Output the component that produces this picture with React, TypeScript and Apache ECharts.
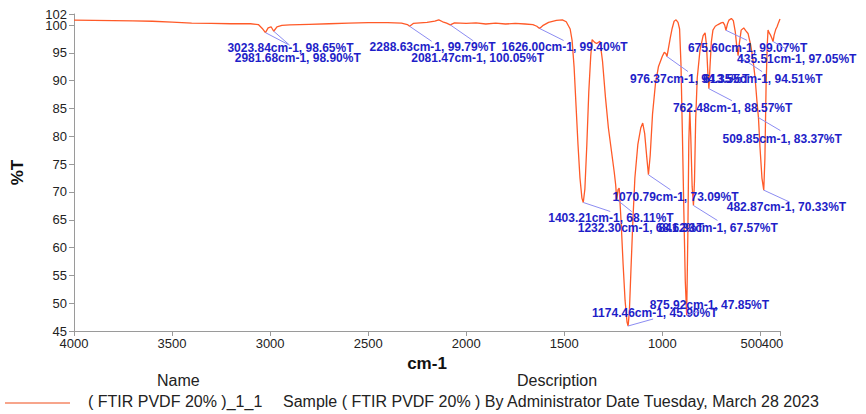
import React, { useEffect, useRef } from "react";
import * as echarts from "echarts";

// FTIR spectrum of PVDF 20%: [wavenumber (cm-1), transmittance (%T)]
const spectrum: [number, number][] = [
  [4000, 100.9], [3900, 100.85], [3800, 100.8], [3700, 100.75], [3600, 100.7],
  [3500, 100.55], [3400, 100.35], [3300, 100.3], [3200, 100.25], [3100, 100.25],
  [3060, 100.1], [3040, 99.4], [3023.84, 98.65], [3010, 99.5], [2995, 99.7],
  [2981.68, 98.9], [2965, 99.7], [2940, 99.95], [2900, 100.05], [2800, 100.15],
  [2700, 100.25], [2600, 100.35], [2500, 100.45], [2400, 100.45], [2330, 100.35],
  [2300, 100.1], [2288.63, 99.79], [2270, 100.3], [2200, 100.5], [2160, 100.7],
  [2140, 100.95], [2120, 100.6], [2100, 100.35], [2081.47, 100.05], [2060, 100.4],
  [2000, 100.3], [1950, 100.4], [1900, 100.2], [1850, 100.35], [1800, 100.2],
  [1750, 100.3], [1700, 100.2], [1660, 100.1], [1640, 99.8], [1626, 99.4],
  [1610, 99.9], [1580, 100.5], [1540, 100.85], [1510, 100.95], [1490, 100.6],
  [1470, 99.3], [1460, 97.2], [1450, 92.5], [1440, 85.5], [1430, 78.5],
  [1420, 72.5], [1410, 68.9], [1403.21, 68.11], [1395, 70.5], [1385, 78.5],
  [1375, 88], [1365, 94.5], [1358, 97.4], [1345, 96.9], [1335, 96.7],
  [1318, 97.1], [1305, 93.5], [1290, 87], [1275, 81.5], [1260, 77.5],
  [1245, 73.5], [1238, 71.3], [1232.3, 68.62], [1226, 70.4], [1220, 70.7],
  [1210, 64.5], [1200, 57], [1190, 50.5], [1180, 46.6], [1174.46, 45.9],
  [1168, 48.5], [1160, 56], [1150, 65], [1140, 72.5], [1125, 78.5],
  [1110, 81.5], [1100, 82.4], [1090, 80.5], [1080, 76.5], [1070.79, 73.09],
  [1062, 76.5], [1050, 84], [1035, 89.5], [1020, 92.5], [1000, 94.4],
  [990, 95.1], [982, 94.9], [976.37, 94.35], [970, 95.6], [960, 97.6],
  [950, 99.4], [940, 100.7], [930, 100.95], [920, 100.5], [912, 99.3],
  [905, 93], [898, 81], [890, 66], [883, 54], [875.92, 47.85],
  [870, 62], [865, 79], [860, 85], [855, 80], [848, 71],
  [841.33, 67.57], [836, 72], [830, 83], [822, 90.5], [808, 95.5],
  [792, 98.1], [782, 98.6], [775, 96.5], [768, 91.5], [762.48, 88.57],
  [757, 92.5], [750, 97], [742, 99.1], [730, 99.8], [716, 100.1],
  [700, 100.4], [690, 100.5], [682, 100.0], [675.6, 99.07], [668, 100.2],
  [660, 100.9], [648, 101.2], [638, 100.8], [628, 98.8], [620, 96],
  [613.55, 94.51], [607, 96.8], [598, 99.1], [585, 99.5], [575, 99.0],
  [563, 98.5], [550, 96.5], [543, 95], [535, 93], [527, 90.5],
  [518, 86.5], [509.85, 83.37], [502, 78], [492, 72.5], [482.87, 70.33],
  [477, 76], [471, 89], [465, 96.5], [461, 99.1], [455, 98.6],
  [448, 98.2], [441, 97.6], [435.51, 97.05], [430, 98.2], [422, 99.2],
  [415, 99.7], [408, 100.4], [400, 101.1],
];

// Picked peaks: [wavenumber, %T]
const peaks: [number, number][] = [
  [3023.84, 98.65], [2981.68, 98.9], [2288.63, 99.79], [2081.47, 100.05],
  [1626.0, 99.4], [1403.21, 68.11], [1232.3, 68.62], [1174.46, 45.9],
  [1070.79, 73.09], [976.37, 94.35], [875.92, 47.85], [841.33, 67.57],
  [762.48, 88.57], [675.6, 99.07], [613.55, 94.51], [509.85, 83.37],
  [482.87, 70.33], [435.51, 97.05],
];

// Axis ranges and tick values
const xRange = [400, 4000];
const xTickValues = [400, 500, 1000, 1500, 2000, 2500, 3000, 3500, 4000];
const xMainLabels = [500, 1000, 1500, 2000, 2500, 3000, 3500, 4000];
const xEndLabel = [400];
const yRange = [45, 102];
const yTickValues = [45, 50, 55, 60, 65, 70, 75, 80, 85, 90, 95, 100, 102];
const yMainLabels = [45, 50, 55, 60, 65, 70, 75, 80, 85, 90, 95, 100];
const yEndLabel = [102];

const seriesName = "( FTIR PVDF 20% )_1_1";
const seriesDescription =
  "Sample ( FTIR PVDF 20% ) By Administrator Date Tuesday, March 28 2023";

// Label placement per peak: [textDx, textDy, leaderDx, leaderDy] in px from the peak
const peakLabelLayout: [number, number, number, number][] = [
  [-38, 15, 23, 12], [-39, 27, 16, 14], [-40, 21, 22, 15], [-39, 33, 23, 16],
  [-38, 19, 24, 12], [-35, 16, 27, 9], [-39, 28, 15, 12], [-36, -13, 25, -7],
  [-36, 22, 22, 15], [-37, 22, 21, 15], [-37, -10, 12, -4], [-35, 23, 24, 15],
  [-36, 19, 23, 12], [-38, 18, 21, 10], [-35, 23, 24, 16], [-36, 21, 22, 13],
  [-37, 17, 26, 12], [-36, 17, 14, 8],
];

const LINE_COLOR = "#ff5a28";
const PEAK_TEXT = "#1e1ec8";
const PEAK_LEADER = "#8c8cf2";
const AXIS_GRAY = "#9a9a9a";
const FONT = "'Liberation Sans', Arial, sans-serif";

const labelFont = { fontFamily: FONT, fontSize: 13, color: "#222" };
const nameFont = { fontFamily: FONT, fontSize: 17, fontWeight: "bold", color: "#111" };

export default function App() {
  const ref = useRef<HTMLDivElement>(null);

  useEffect(() => {
    document.body.style.margin = "0";
    if (!ref.current) return;
    const chart = echarts.init(ref.current, undefined, { renderer: "svg" });

    const option: any = {
      animation: false,
      backgroundColor: "#ffffff",
      grid: { left: 74, right: 86, top: 14, bottom: 83 },
      xAxis: [
        {
          type: "value",
          position: "bottom",
          inverse: true,
          min: xRange[0],
          max: xRange[1],
          name: "cm-1",
          nameLocation: "middle",
          nameGap: 17,
          nameTextStyle: nameFont,
          axisLine: { show: true, lineStyle: { color: AXIS_GRAY, width: 1 } },
          axisTick: { show: true, length: 5, customValues: xTickValues, lineStyle: { color: AXIS_GRAY } },
          splitLine: { show: false },
          axisLabel: {
            ...labelFont,
            margin: 6,
            customValues: xMainLabels,
            showMinLabel: true,
            showMaxLabel: true,
            // the 500 label is nudged left so it abuts the 400 label
            formatter: (v: number) => (v === 500 ? `{n|${v}}` : String(v)),
            rich: { n: { ...labelFont, padding: [0, 18, 0, 0] } },
          },
        },
        {
          type: "value",
          position: "bottom",
          inverse: true,
          min: xRange[0],
          max: xRange[1],
          axisLine: { show: false },
          axisTick: { show: false },
          splitLine: { show: false },
          axisLabel: {
            ...labelFont,
            margin: 6,
            customValues: xEndLabel,
            showMinLabel: true,
            formatter: (v: number) => `{e|${v}}`,
            rich: { e: { ...labelFont, padding: [0, 15, 0, 0] } },
          },
        },
      ],
      yAxis: [
        {
          type: "value",
          position: "left",
          min: yRange[0],
          max: yRange[1],
          name: "%T",
          nameLocation: "middle",
          nameGap: 48,
          nameRotate: 90,
          nameTextStyle: nameFont,
          axisLine: { show: true, lineStyle: { color: AXIS_GRAY, width: 1 } },
          axisTick: { show: true, length: 5, customValues: yTickValues, lineStyle: { color: AXIS_GRAY } },
          splitLine: { show: false },
          axisLabel: {
            ...labelFont,
            margin: 7,
            customValues: yMainLabels,
            showMinLabel: true,
            showMaxLabel: true,
            formatter: (v: number) => String(v),
          },
        },
        {
          type: "value",
          position: "left",
          min: yRange[0],
          max: yRange[1],
          axisLine: { show: false },
          axisTick: { show: false },
          splitLine: { show: false },
          axisLabel: {
            ...labelFont,
            margin: 7,
            customValues: yEndLabel,
            showMaxLabel: true,
            formatter: (v: number) => String(v),
          },
        },
      ],
      series: [
        {
          type: "line",
          name: seriesName,
          data: spectrum,
          xAxisIndex: 0,
          yAxisIndex: 0,
          showSymbol: false,
          symbol: "none",
          lineStyle: { color: LINE_COLOR, width: 1.3 },
          z: 2,
        },
        {
          type: "custom",
          name: "peaks",
          data: peaks,
          xAxisIndex: 0,
          yAxisIndex: 0,
          clip: false,
          z: 5,
          renderItem: (params: any, api: any) => {
            const i = params.dataIndex;
            const w = api.value(0);
            const t = api.value(1);
            const [px, py] = api.coord([w, t]);
            const [tdx, tdy, ldx, ldy] = peakLabelLayout[i];
            return {
              type: "group",
              children: [
                {
                  type: "line",
                  shape: { x1: px, y1: py, x2: px + ldx, y2: py + ldy },
                  style: { stroke: PEAK_LEADER, lineWidth: 1 },
                },
                {
                  type: "text",
                  style: {
                    text: `${w.toFixed(2)}cm-1, ${t.toFixed(2)}%T`,
                    x: px + tdx,
                    y: py + tdy,
                    fill: PEAK_TEXT,
                    font: `bold 12px ${FONT}`,
                    align: "left",
                    verticalAlign: "middle",
                  },
                },
              ],
            };
          },
        },
      ],
      graphic: [
        {
          type: "text",
          left: 157,
          top: 372,
          style: { text: "Name", font: `16px ${FONT}`, fill: "#222" },
        },
        {
          type: "text",
          left: 517,
          top: 372,
          style: { text: "Description", font: `16px ${FONT}`, fill: "#222" },
        },
        {
          type: "line",
          shape: { x1: 5, y1: 403, x2: 70, y2: 403 },
          style: { stroke: "#f7a58b", lineWidth: 2 },
        },
        {
          type: "text",
          left: 88,
          top: 393,
          style: { text: seriesName, font: `16px ${FONT}`, fill: "#222" },
        },
        {
          type: "text",
          left: 283,
          top: 393,
          style: { text: seriesDescription, font: `16px ${FONT}`, fill: "#222" },
        },
      ],
    };

    chart.setOption(option);
    return () => chart.dispose();
  }, []);

  return <div ref={ref} style={{ width: 866, height: 414 }} />;
}
